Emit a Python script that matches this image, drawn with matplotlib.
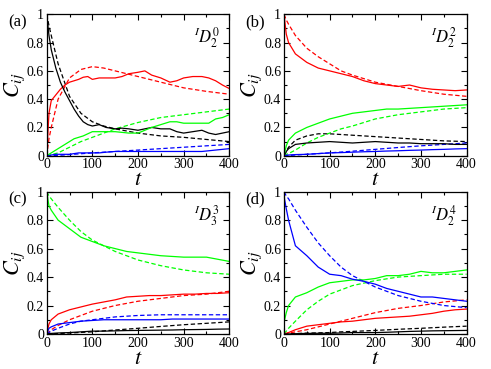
import matplotlib
matplotlib.use('Agg')
import matplotlib.pyplot as plt
from matplotlib.ticker import MultipleLocator, FixedLocator, FixedFormatter

plt.rcParams['font.family'] = ['Liberation Serif', 'DejaVu Serif']
plt.rcParams['mathtext.fontset'] = 'stix'

# grilles de temps
t_fine = [0, 5, 10, 20, 30, 40, 50, 60, 70, 80, 90, 100, 115, 130, 150, 165, 180,
          200, 215, 230, 250, 270, 285, 300, 320, 340, 355, 370, 385, 400]
t_solid = [0, 5, 10, 25, 50, 75, 100, 125, 150, 175, 200, 225, 250, 275, 300,
           325, 350, 375, 400]
t_dash = [0, 5, 10, 25, 50, 75, 100, 125, 150, 200, 250, 300, 350, 400]

# (a) simulation
a_red = [0, 0.3, 0.39, 0.43, 0.47, 0.5, 0.52, 0.53, 0.54, 0.555, 0.56, 0.54, 0.55, 0.55, 0.55,
         0.56, 0.58, 0.59, 0.6, 0.57, 0.55, 0.52, 0.53, 0.55, 0.56, 0.56, 0.55, 0.53, 0.5, 0.475]
a_black = [1, 0.85, 0.75, 0.62, 0.52, 0.45, 0.39, 0.33, 0.28, 0.24, 0.22, 0.21, 0.22, 0.2, 0.19,
           0.195, 0.19, 0.18, 0.19, 0.2, 0.19, 0.19, 0.17, 0.16, 0.17, 0.18, 0.16, 0.15, 0.16, 0.17]
a_green = [0, 0.01, 0.02, 0.04, 0.06, 0.08, 0.1, 0.12, 0.13, 0.14, 0.155, 0.17, 0.17, 0.17, 0.17,
           0.165, 0.16, 0.16, 0.18, 0.2, 0.22, 0.24, 0.24, 0.23, 0.23, 0.23, 0.23, 0.26, 0.27, 0.29]
a_blue = [0, 0, 0.005, 0.01, 0.01, 0.01, 0.01, 0.015, 0.02, 0.02, 0.02, 0.02, 0.02, 0.025, 0.03,
          0.03, 0.03, 0.03, 0.03, 0.03, 0.03, 0.03, 0.03, 0.03, 0.03, 0.03, 0.035, 0.04, 0.045, 0.05]
# (a) théorie
a_red_th = [0, 0.12, 0.2, 0.4, 0.55, 0.61, 0.63, 0.62, 0.6, 0.56, 0.52, 0.48, 0.455, 0.435]
a_black_th = [1, 0.92, 0.85, 0.65, 0.42, 0.3, 0.24, 0.21, 0.19, 0.16, 0.14, 0.13, 0.115, 0.1]
a_green_th = [0, 0.003, 0.007, 0.02, 0.06, 0.1, 0.13, 0.16, 0.19, 0.235, 0.27, 0.29, 0.31, 0.33]
a_blue_th = [0, 0, 0.001, 0.003, 0.008, 0.014, 0.02, 0.025, 0.03, 0.04, 0.05, 0.06, 0.07, 0.08]

# (b)
b_red = [1, 0.86, 0.8, 0.72, 0.66, 0.62, 0.6, 0.58, 0.56, 0.53, 0.51, 0.5, 0.49, 0.5, 0.48,
         0.47, 0.465, 0.46, 0.465]
b_green = [0, 0.07, 0.11, 0.16, 0.2, 0.23, 0.26, 0.28, 0.3, 0.31, 0.32, 0.33, 0.33, 0.335, 0.34,
           0.345, 0.35, 0.355, 0.36]
b_black = [0, 0.03, 0.05, 0.08, 0.09, 0.095, 0.1, 0.095, 0.09, 0.095, 0.1, 0.095, 0.09, 0.09,
           0.085, 0.085, 0.085, 0.08, 0.08]
b_blue = [0, 0.003, 0.005, 0.008, 0.01, 0.015, 0.02, 0.022, 0.025, 0.028, 0.03, 0.033, 0.035,
          0.038, 0.04, 0.043, 0.045, 0.048, 0.05]
b_red_th = [1, 0.96, 0.93, 0.85, 0.76, 0.7, 0.65, 0.6, 0.57, 0.52, 0.49, 0.46, 0.435, 0.42]
b_green_th = [0, 0.01, 0.015, 0.04, 0.09, 0.13, 0.16, 0.19, 0.21, 0.26, 0.29, 0.31, 0.33, 0.34]
b_black_th = [0, 0.03, 0.06, 0.11, 0.14, 0.155, 0.155, 0.15, 0.145, 0.135, 0.125, 0.115, 0.105, 0.1]
b_blue_th = [0, 0.001, 0.002, 0.005, 0.01, 0.015, 0.02, 0.026, 0.032, 0.045, 0.058, 0.07, 0.08, 0.09]

# (c)
c_green = [1, 0.9, 0.87, 0.8, 0.74, 0.68, 0.65, 0.62, 0.6, 0.58, 0.57, 0.56, 0.55, 0.545, 0.54,
           0.54, 0.54, 0.525, 0.51]
c_red = [0, 0.07, 0.1, 0.14, 0.17, 0.19, 0.21, 0.225, 0.24, 0.26, 0.265, 0.27, 0.27, 0.275, 0.28,
         0.28, 0.285, 0.285, 0.29]
c_blue = [0, 0.04, 0.05, 0.07, 0.08, 0.09, 0.095, 0.1, 0.1, 0.1, 0.1, 0.1, 0.1, 0.105, 0.105,
          0.105, 0.105, 0.105, 0.105]
c_black = [0, 0.002, 0.004, 0.007, 0.01, 0.015, 0.02, 0.02, 0.022, 0.024, 0.025, 0.026, 0.027,
           0.028, 0.03, 0.031, 0.032, 0.034, 0.035]
c_green_th = [1, 0.97, 0.95, 0.89, 0.8, 0.72, 0.66, 0.62, 0.58, 0.52, 0.48, 0.45, 0.43, 0.42]
c_red_th = [0, 0.015, 0.03, 0.06, 0.1, 0.13, 0.16, 0.18, 0.2, 0.23, 0.25, 0.27, 0.28, 0.3]
c_blue_th = [0, 0.01, 0.02, 0.04, 0.07, 0.09, 0.1, 0.11, 0.12, 0.13, 0.135, 0.135, 0.135, 0.135]
c_black_th = [0, 0, 0.001, 0.003, 0.007, 0.011, 0.015, 0.022, 0.028, 0.04, 0.053, 0.065, 0.075, 0.085]

# (d)
d_blue = [0.97, 0.88, 0.8, 0.62, 0.55, 0.47, 0.42, 0.41, 0.385, 0.37, 0.35, 0.32, 0.3, 0.28,
          0.26, 0.26, 0.25, 0.24, 0.23]
d_green = [0.08, 0.15, 0.2, 0.26, 0.29, 0.33, 0.36, 0.37, 0.38, 0.38, 0.39, 0.41, 0.41, 0.42,
           0.44, 0.43, 0.43, 0.44, 0.45]
d_red = [0, 0.005, 0.01, 0.03, 0.055, 0.065, 0.075, 0.085, 0.09, 0.1, 0.11, 0.115, 0.12, 0.125,
         0.135, 0.145, 0.16, 0.17, 0.175]
d_black = [0, 0, 0, 0.002, 0.004, 0.005, 0.005, 0.007, 0.01, 0.01, 0.01, 0.012, 0.015, 0.018,
           0.02, 0.022, 0.023, 0.024, 0.025]
d_blue_th = [1, 0.97, 0.95, 0.87, 0.75, 0.64, 0.55, 0.47, 0.41, 0.33, 0.27, 0.23, 0.2, 0.185]
d_green_th = [0, 0.02, 0.04, 0.09, 0.17, 0.23, 0.28, 0.31, 0.34, 0.375, 0.4, 0.41, 0.42, 0.42]
d_red_th = [0, 0.003, 0.006, 0.015, 0.03, 0.05, 0.07, 0.09, 0.11, 0.15, 0.18, 0.2, 0.225, 0.24]
d_black_th = [0, 0, 0.001, 0.003, 0.006, 0.008, 0.01, 0.015, 0.018, 0.025, 0.033, 0.04, 0.048, 0.055]

panel_labels = ['(a)', '(b)', '(c)', '(d)']
state_labels = [r'${}^{I}D_2^0$', r'${}^{I}D_2^2$', r'${}^{I}D_3^3$', r'${}^{I}D_2^4$']
y_ticks = [0, 0.2, 0.4, 0.6, 0.8, 1]
y_tick_labels = ['0', '0.2', '0.4', '0.6', '0.8', '1']
x_ticks = [0, 100, 200, 300, 400]

fig = plt.figure(figsize=(4.91, 3.69), dpi=100)
positions = [
    [0.0951, 0.578, 0.3719, 0.3832],
    [0.5784, 0.578, 0.3719, 0.3832],
    [0.0951, 0.0949, 0.3719, 0.3856],
    [0.5784, 0.0949, 0.3719, 0.3856],
]

panels = [
    (t_fine, {'red': a_red, 'black': a_black, '#00ff00': a_green, 'blue': a_blue},
     {'red': a_red_th, 'black': a_black_th, '#00ff00': a_green_th, 'blue': a_blue_th}),
    (t_solid, {'red': b_red, 'black': b_black, '#00ff00': b_green, 'blue': b_blue},
     {'red': b_red_th, 'black': b_black_th, '#00ff00': b_green_th, 'blue': b_blue_th}),
    (t_solid, {'red': c_red, 'black': c_black, '#00ff00': c_green, 'blue': c_blue},
     {'red': c_red_th, 'black': c_black_th, '#00ff00': c_green_th, 'blue': c_blue_th}),
    (t_solid, {'red': d_red, 'black': d_black, '#00ff00': d_green, 'blue': d_blue},
     {'red': d_red_th, 'black': d_black_th, '#00ff00': d_green_th, 'blue': d_blue_th}),
]

for i, (t_sim, sim, th) in enumerate(panels):
    ax = fig.add_axes(positions[i])
    for col, y in th.items():
        ax.plot(t_dash, y, color=col, lw=0.9, ls=(0, (3.5, 2)))
    for col, y in sim.items():
        ax.plot(t_sim, y, color=col, lw=0.9)

    ax.set_xlim(0, 400)
    ax.set_ylim(0, 1)
    ax.xaxis.set_major_locator(FixedLocator(x_ticks))
    ax.xaxis.set_minor_locator(MultipleLocator(50))
    ax.yaxis.set_major_locator(FixedLocator(y_ticks))
    ax.yaxis.set_major_formatter(FixedFormatter(y_tick_labels))
    ax.yaxis.set_minor_locator(MultipleLocator(0.1))
    ax.tick_params(which='both', direction='in', top=True, right=True, labelsize=10, pad=2)
    ax.tick_params(which='major', length=4, width=0.8)
    ax.tick_params(which='minor', length=2, width=0.8)
    for s in ax.spines.values():
        s.set_linewidth(0.9)

    ax.set_xlabel(r'$t$', fontsize=16, labelpad=0)
    ax.set_ylabel(r'$C_{ij}$', fontsize=16, labelpad=0)
    ax.text(-0.21, 1.0, panel_labels[i], transform=ax.transAxes, fontsize=12,
            ha='left', va='top')
    ax.text(0.95, 0.92, state_labels[i], transform=ax.transAxes, fontsize=12,
            ha='right', va='top')

fig.savefig('out.png', dpi=100)
